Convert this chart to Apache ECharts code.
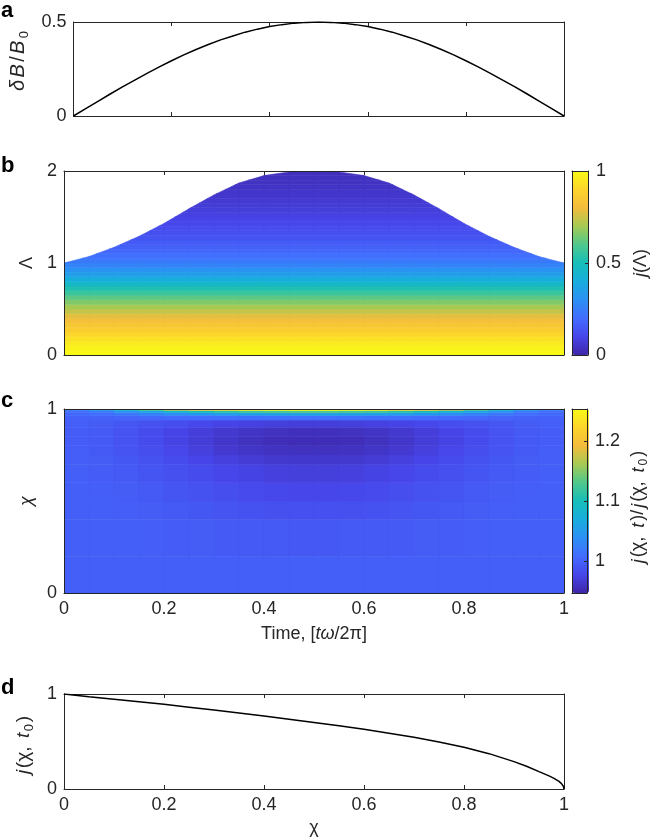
<!DOCTYPE html>
<html><head><meta charset="utf-8">
<script src="https://cdn.jsdelivr.net/npm/echarts@6/dist/echarts.min.js"></script>
<style>html,body{margin:0;padding:0;background:#fff}#c{width:651px;height:838px}</style>
</head><body><div id="c"></div>
<script>
// ---------- Panel a : deltaB/B0 vs time ----------
const tA = [0,0.025,0.05,0.075,0.1,0.125,0.15,0.175,0.2,0.225,0.25,0.275,0.3,0.325,0.35,0.375,0.4,0.425,0.45,0.475,0.5,
            0.525,0.55,0.575,0.6,0.625,0.65,0.675,0.7,0.725,0.75,0.775,0.8,0.825,0.85,0.875,0.9,0.925,0.95,0.975,1];
const dB = [0,0.039,0.078,0.117,0.155,0.191,0.227,0.261,0.294,0.325,0.354,0.380,0.405,0.426,0.446,0.462,0.476,0.486,0.494,0.498,0.5,
            0.498,0.494,0.486,0.476,0.462,0.446,0.426,0.405,0.380,0.354,0.325,0.294,0.261,0.227,0.191,0.155,0.117,0.078,0.039,0];

// ---------- Panel b : j(Lambda) map ----------
const tEdgesB = [0,0.05,0.1,0.15,0.2,0.25,0.3,0.35,0.4,0.45,0.5,0.55,0.6,0.65,0.7,0.75,0.8,0.85,0.9,0.95,1];
const lamMax  = [1.00,1.07,1.17,1.29,1.43,1.59,1.74,1.87,1.95,1.99,2.00,1.99,1.95,1.87,1.74,1.59,1.43,1.29,1.17,1.07,1.00];
const lamEdges = [0,0.05,0.1,0.15,0.2,0.25,0.3,0.35,0.4,0.45,0.5,0.55,0.6,0.65,0.7,0.75,0.8,0.85,0.9,0.95,1,
                  1.05,1.1,1.15,1.2,1.25,1.3,1.35,1.4,1.45,1.5,1.55,1.6,1.65,1.7,1.75,1.8,1.85,1.9,1.95,2];
const jLam = [0.995,0.98,0.96,0.935,0.905,0.875,0.845,0.815,0.78,0.74,0.70,0.66,0.615,0.565,0.515,0.46,0.405,0.355,0.31,0.27,
              0.24,0.215,0.19,0.17,0.155,0.14,0.125,0.115,0.105,0.095,0.085,0.078,0.07,0.063,0.057,0.051,0.046,0.041,0.036,0.032];

// ---------- Panel c : j(chi,t)/j(chi,t0) map ----------
const tEdgesC = [0,0.05,0.1,0.15,0.2,0.25,0.3,0.35,0.4,0.45,0.5,0.55,0.6,0.65,0.7,0.75,0.8,0.85,0.9,0.95,1];
const chiEdges = [0,0.2,0.4,0.5,0.6,0.7,0.75,0.8,0.85,0.9,0.94,0.965,0.98,0.992,1.0];
const ratioRow0  = [0.998,0.998,0.998,0.998,0.998,0.998,0.998,0.998,0.998,0.998,0.998,0.998,0.998,0.998,0.998,0.998,0.998,0.998,0.998,0.998];
const ratioRow1  = [0.998,0.998,0.998,0.997,0.996,0.995,0.994,0.993,0.993,0.992,0.992,0.993,0.993,0.994,0.995,0.996,0.997,0.998,0.998,0.998];
const ratioRow2  = [0.998,0.998,0.997,0.995,0.993,0.991,0.989,0.987,0.986,0.985,0.985,0.986,0.987,0.989,0.991,0.993,0.995,0.997,0.998,0.998];
const ratioRow3  = [0.998,0.997,0.995,0.993,0.990,0.987,0.984,0.981,0.979,0.978,0.978,0.979,0.981,0.984,0.987,0.990,0.993,0.995,0.997,0.998];
const ratioRow4  = [0.998,0.996,0.993,0.990,0.986,0.982,0.978,0.975,0.972,0.971,0.971,0.972,0.975,0.978,0.982,0.986,0.990,0.993,0.996,0.998];
const ratioRow5  = [0.997,0.995,0.991,0.987,0.982,0.977,0.972,0.968,0.965,0.964,0.964,0.965,0.968,0.972,0.977,0.982,0.987,0.991,0.995,0.997];
const ratioRow6  = [0.997,0.994,0.989,0.984,0.978,0.972,0.966,0.962,0.959,0.958,0.958,0.959,0.962,0.966,0.972,0.978,0.984,0.989,0.994,0.997];
const ratioRow7  = [0.996,0.993,0.988,0.982,0.975,0.969,0.963,0.958,0.955,0.954,0.954,0.955,0.958,0.963,0.969,0.975,0.982,0.988,0.993,0.996];
const ratioRow8  = [0.996,0.993,0.988,0.982,0.976,0.970,0.965,0.961,0.958,0.957,0.957,0.958,0.961,0.965,0.970,0.976,0.982,0.988,0.993,0.996];
const ratioRow9  = [0.997,0.995,0.991,0.987,0.983,0.979,0.976,0.973,0.971,0.970,0.970,0.971,0.973,0.976,0.979,0.983,0.987,0.991,0.995,0.997];
const ratioRow10 = [1.000,1.000,1.002,1.004,1.006,1.008,1.010,1.011,1.012,1.012,1.012,1.012,1.011,1.010,1.008,1.006,1.004,1.002,1.000,1.000];
const ratioRow11 = [1.005,1.010,1.018,1.027,1.036,1.044,1.050,1.054,1.056,1.057,1.057,1.056,1.054,1.050,1.044,1.036,1.027,1.018,1.010,1.005];
const ratioRow12 = [1.01,1.02,1.04,1.06,1.08,1.10,1.11,1.12,1.125,1.13,1.13,1.125,1.12,1.11,1.10,1.08,1.06,1.04,1.02,1.01];
const ratioRow13 = [1.02,1.05,1.09,1.13,1.17,1.20,1.22,1.235,1.245,1.25,1.25,1.245,1.235,1.22,1.20,1.17,1.13,1.09,1.05,1.02];
const ratioRows = [ratioRow0,ratioRow1,ratioRow2,ratioRow3,ratioRow4,ratioRow5,ratioRow6,ratioRow7,ratioRow8,ratioRow9,ratioRow10,ratioRow11,ratioRow12,ratioRow13];

// ---------- Panel d : j(chi,t0) ----------
const chiD = [0,0.05,0.1,0.15,0.2,0.25,0.3,0.35,0.4,0.45,0.5,0.55,0.6,0.65,0.7,0.75,0.8,0.85,0.9,0.925,0.95,0.97,0.98,0.99,0.995,0.999,1];
const jD   = [1,0.972,0.945,0.918,0.891,0.861,0.831,0.8,0.768,0.735,0.7,0.665,0.628,0.588,0.544,0.495,0.439,0.372,0.288,0.24,0.183,0.138,0.112,0.08,0.057,0.026,0];

// ---------- tick values ----------
const yTicksA = [0, 0.5];
const yTicksB = [0, 1, 2];
const yTicksC = [0, 1];
const yTicksD = [0, 1];
const xTicks  = [0, 0.2, 0.4, 0.6, 0.8, 1];
const cbTicksB = [0, 0.5, 1];
const cbTicksC = [1, 1.1, 1.2];
const cbRangeC = [0.947, 1.253];

const parula = ['#3e26a8','#4746ea','#436cfe','#2c90f4','#18addd','#16beb9','#50c88c','#a5ca54','#f3bc3b','#fcd42c','#f9fb15'];

const FONT = 'Liberation Sans, Arial, Helvetica, sans-serif';
const AX = '#262626';
const FS = 18;
function makeRich(pad, fs) {
  const sub = Math.round(fs * 0.67);
  return {
    i: {fontStyle:'italic', fontSize:fs, fontFamily:FONT, color:AX, padding:[0,pad,0,pad]},
    n: {fontSize:fs, fontFamily:FONT, color:AX, padding:[0,pad,0,pad]},
    s: {fontSize:sub, fontFamily:FONT, color:AX, padding:[Math.round(fs*0.6),pad,0,pad]}
  };
}
function nameStyle(pad, boxPad, fs) {
  fs = fs || FS;
  return {fontSize:fs, fontFamily:FONT, color:AX, rich: makeRich(pad, fs), padding: boxPad || [0,0,0,0]};
}

function xPair(gi, o) {
  const base = {type:'value', gridIndex:gi, min:0, max:1, interval:0.2, splitLine:{show:false}, z:o.z||0,
    axisLine:{show:true, onZero:false, lineStyle:{color:AX, width:1}}};
  return [
    Object.assign({}, base, {position:'bottom',
      axisTick:{show:!!o.bt, inside:true, length:4, lineStyle:{color:AX}},
      axisLabel:{show:!!o.labels, margin:7, fontSize:FS, fontFamily:FONT, color:AX, customValues: o.labels ? xTicks : undefined},
      name:o.name||'', nameLocation:'middle', nameGap:o.nameGap||30, nameTextStyle:nameStyle(0)}),
    Object.assign({}, base, {position:'top',
      axisTick:{show:!!o.tt, inside:true, length:4, lineStyle:{color:AX}},
      axisLabel:{show:false}})
  ];
}
function yPair(gi, o) {
  const base = {type:'value', gridIndex:gi, min:o.min, max:o.max, splitLine:{show:false}, z:o.z||0,
    axisLine:{show:true, onZero:false, lineStyle:{color:AX, width:1}}};
  return [
    Object.assign({}, base, {position:'left', interval:o.interval,
      axisTick:{show:false},
      axisLabel:{show:true, margin:7, fontSize:FS, fontFamily:FONT, color:AX, customValues:o.ticks},
      name:o.name||'', nameLocation:'middle', nameRotate:90, nameGap:o.nameGap||30,
      nameTextStyle:nameStyle(o.pad || 0, o.boxPad, o.fs)}),
    Object.assign({}, base, {position:'right', interval:o.interval, axisTick:{show:false}, axisLabel:{show:false}})
  ];
}
function cbAxes(gi, mn, mx, ticks, name, gap, pad, boxPad) {
  const line = {show:true, onZero:false, lineStyle:{color:AX, width:1}};
  const xs = [
    {type:'value', gridIndex:gi, min:0, max:1, position:'bottom', axisLine:line, axisTick:{show:false}, axisLabel:{show:false}, splitLine:{show:false}, z:6},
    {type:'value', gridIndex:gi, min:0, max:1, position:'top', axisLine:line, axisTick:{show:false}, axisLabel:{show:false}, splitLine:{show:false}, z:6}
  ];
  const ys = [
    {type:'value', gridIndex:gi, min:mn, max:mx, position:'left', axisLine:line, axisTick:{show:false}, axisLabel:{show:false}, splitLine:{show:false}, z:6},
    {type:'value', gridIndex:gi, min:mn, max:mx, position:'right', axisLine:line,
      axisTick:{show:true, inside:true, length:3, lineStyle:{color:AX}, customValues:ticks},
      axisLabel:{show:true, margin:8, fontSize:FS, fontFamily:FONT, color:AX, customValues:ticks},
      splitLine:{show:false}, z:6,
      name:name, nameLocation:'middle', nameRotate:90, nameGap:gap, nameTextStyle:nameStyle(pad, boxPad)}
  ];
  return {xs, ys};
}

// build cells
const cellsB = [];
for (let c = 0; c < tEdgesB.length - 1; c++) {
  const b0 = lamMax[c], b1 = lamMax[c+1];
  for (let r = 0; r < lamEdges.length - 1; r++) {
    if (lamEdges[r] >= Math.max(b0, b1)) continue;
    cellsB.push([tEdgesB[c], tEdgesB[c+1], lamEdges[r], lamEdges[r+1], jLam[r], b0, b1]);
  }
}
const cellsC = [];
for (let r = 0; r < chiEdges.length - 1; r++) {
  for (let c = 0; c < tEdgesC.length - 1; c++) {
    cellsC.push([tEdgesC[c], tEdgesC[c+1], chiEdges[r], chiEdges[r+1], ratioRows[r][c]]);
  }
}

// clip a cell rectangle (data space) to the region below the boundary line
function clipCell(t0, t1, y0, y1, b0, b1) {
  const pts = [[t0,y0],[t1,y0],[t1,y1],[t0,y1]];
  const f = p => p[1] - (b0 + (b1 - b0) * (p[0] - t0) / (t1 - t0));
  const out = [];
  for (let i = 0; i < 4; i++) {
    const a = pts[i], b = pts[(i+1) % 4];
    const fa = f(a), fb = f(b);
    if (fa <= 0) out.push(a);
    if ((fa <= 0) !== (fb <= 0)) {
      const s = fa / (fa - fb);
      out.push([a[0] + s * (b[0] - a[0]), a[1] + s * (b[1] - a[1])]);
    }
  }
  return out;
}

const G = [
  {left:64, top:22, width:500, height:94},
  {left:64, top:171, width:500, height:184},
  {left:64, top:409, width:500, height:184},
  {left:64, top:694, width:500, height:95},
  {left:572, top:171, width:17, height:184},
  {left:572, top:409, width:17, height:184}
];

const xa = xPair(0, {bt:true, tt:true});
const xb = xPair(1, {tt:true, z:3});
const xc = xPair(2, {labels:true, z:3, name:'Time, [{i|tω}/2π]', nameGap:32});
const xd = xPair(3, {bt:true, tt:true, labels:true, name:'χ', nameGap:30});
const ya = yPair(0, {min:0, max:0.5, interval:0.5, ticks:yTicksA, name:'{i|δ}{i|B}{n|/}{i|B}{s|0}', nameGap:38, pad:1.2, fs:20, boxPad:[0,0,0,16]});
const yb = yPair(1, {min:0, max:2, interval:1, ticks:yTicksB, name:'Λ', nameGap:25, z:3});
const yc = yPair(2, {min:0, max:1, interval:1, ticks:yTicksC, name:'{i|χ}', nameGap:25, z:3});
const yd = yPair(3, {min:0, max:1, interval:1, ticks:yTicksD, name:'{i|j}{n|(χ,}{n| }{i|t}{s|0}{n|)}', nameGap:25, pad:0.8, fs:19, boxPad:[0,7,0,0]});
const cbB = cbAxes(4, 0, 1, cbTicksB, '{i|j}{n|(Λ)}', 44, 0);
const cbC = cbAxes(5, cbRangeC[0], cbRangeC[1], cbTicksC,
  '{i|j}{n|(χ,}{n| }{i|t}{n|)/}{i|j}{n|(χ,}{n| }{i|t}{s|0}{n|)}', 40, 1, [0,12,0,0]);

const option = {
  animation:false,
  backgroundColor:'#fff',
  grid: G,
  xAxis: [].concat(xa, xb, xc, xd, cbB.xs, cbC.xs),
  yAxis: [].concat(ya, yb, yc, yd, cbB.ys, cbC.ys),
  visualMap: [
    {type:'continuous', seriesIndex:1, dimension:4, min:0, max:1, inRange:{color:parula},
     calculable:false, hoverLink:false, orient:'vertical', itemWidth:17, itemHeight:184, left:572, top:171, padding:0, text:null},
    {type:'continuous', seriesIndex:2, dimension:4, min:cbRangeC[0], max:cbRangeC[1], inRange:{color:parula},
     calculable:false, hoverLink:false, orient:'vertical', itemWidth:17, itemHeight:184, left:572, top:409, padding:0, text:null}
  ],
  series: [
    {type:'line', xAxisIndex:0, yAxisIndex:0, data:tA.map((t,i)=>[t, dB[i]]), showSymbol:false,
     lineStyle:{color:'#000', width:1.5}, z:2},
    {type:'custom', xAxisIndex:2, yAxisIndex:2, data:cellsB, clip:true, z:2,
     encode:{x:[0,1], y:[2,3]},
     renderItem:function(params, api){
       const poly = clipCell(api.value(0), api.value(1), api.value(2), api.value(3), api.value(5), api.value(6));
       if (poly.length < 3) return {type:'group', children:[]};
       const col = api.visual('color');
       return {type:'polygon', shape:{points:poly.map(p => api.coord(p))},
               style:{fill:col, stroke:col, lineWidth:0.6}};
     }},
    {type:'custom', xAxisIndex:4, yAxisIndex:4, data:cellsC, clip:true, z:2,
     encode:{x:[0,1], y:[2,3]},
     renderItem:function(params, api){
       const p0 = api.coord([api.value(0), api.value(2)]);
       const p1 = api.coord([api.value(1), api.value(3)]);
       const col = api.visual('color');
       return {type:'rect', shape:{x:p0[0], y:p1[1], width:p1[0]-p0[0], height:p0[1]-p1[1]},
               style:{fill:col, stroke:col, lineWidth:0.6}};
     }},
    {type:'line', xAxisIndex:6, yAxisIndex:6, data:chiD.map((x,i)=>[x, jD[i]]), showSymbol:false,
     lineStyle:{color:'#000', width:1.5}, z:2}
  ],
  graphic: [
    {type:'text', left:1, top:0, style:{text:'a', font:'bold 22px ' + FONT, fill:'#000'}},
    {type:'text', left:1, top:155, style:{text:'b', font:'bold 22px ' + FONT, fill:'#000'}},
    {type:'text', left:1, top:390, style:{text:'c', font:'bold 22px ' + FONT, fill:'#000'}},
    {type:'text', left:1, top:677, style:{text:'d', font:'bold 22px ' + FONT, fill:'#000'}}
  ]
};
const chart = echarts.init(document.getElementById('c'), null, {renderer:'canvas'});
chart.setOption(option);
</script>
</body></html>
